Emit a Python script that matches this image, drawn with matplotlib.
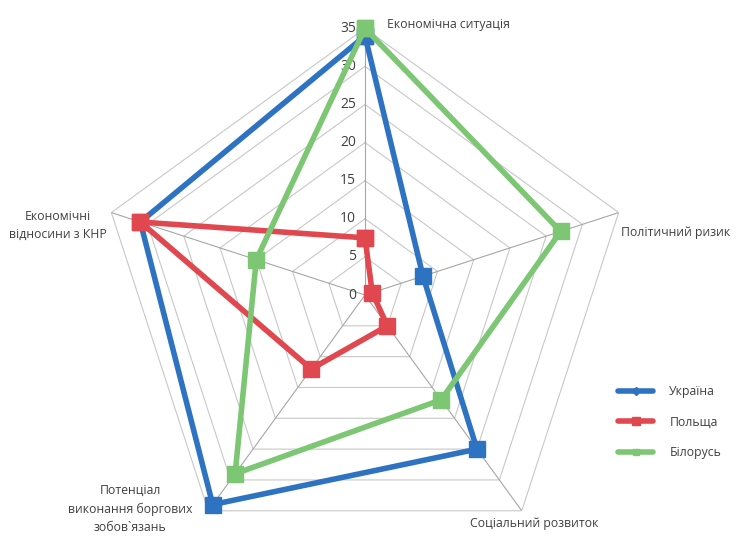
import numpy as np
import matplotlib
matplotlib.use("Agg")
import matplotlib.pyplot as plt
import matplotlib.transforms as mtransforms
from matplotlib.lines import Line2D

plt.rcParams['font.family'] = ['Open Sans', 'DejaVu Sans']

categories = ['Економічна ситуація', 'Політичний ризик', 'Соціальний розвиток',
              'Потенціал\nвиконання боргових\nзобов`язань', 'Економічні\nвідносини з КНР']
ukraine = [34, 8, 25, 34, 31]
poland = [7.5, 1, 5, 12, 31]
belarus = [35, 27, 17, 29, 15]
series_names = ['Україна', 'Польща', 'Білорусь']
colors = ['#2e72c2', '#e0474e', '#7cc674']
r_ticks = [0, 5, 10, 15, 20, 25, 30, 35]

fig = plt.figure(figsize=(7.45, 5.43), dpi=100)
cx, cy, R = 365, 543 - 295, 266.7
ax = fig.add_axes([(cx - R) / 745, (cy - R) / 543, 2 * R / 745, 2 * R / 543],
                  projection='polar')
ax.set_theta_offset(np.pi / 2)
ax.set_theta_direction(-1)
ax.set_ylim(0, 35)
ax.grid(False)
ax.spines['polar'].set_visible(False)
ax.set_xticks([])
ax.set_yticks([])
ax.patch.set_alpha(0)

n = len(categories)
ang = np.linspace(0, 2 * np.pi, n, endpoint=False)
ang_c = np.append(ang, ang[0])

# pentagon grid
for r in r_ticks[1:]:
    ax.plot(ang_c, [r] * (n + 1), color='#c8c8c8', lw=0.8, zorder=1)
for a in ang:
    ax.plot([a, a], [0, 35], color='#a6a6a6', lw=0.8, zorder=1)

# tick labels
off = mtransforms.offset_copy(ax.transData, fig=fig, x=-9, y=0, units='dots')
for r in r_ticks:
    ax.text(0, r, str(r), transform=off, ha='right', va='center',
            fontsize=10, color='#404040')

# category labels
label_off = [(22, 4, 'left'), (2, -20, 'left'), (12, -13, 'center'),
             (-78, 2, 'center'), (-53, -13, 'center')]
for a, lab, (dx, dy, ha) in zip(ang, categories, label_off):
    t = mtransforms.offset_copy(ax.transData, fig=fig, x=dx, y=dy, units='dots')
    ax.text(a, 35, lab, transform=t, ha=ha, va='center', fontsize=8.8,
            color='#404040', linespacing=1.55, multialignment='center')

for vals, c in zip([ukraine, poland, belarus], colors):
    v = np.append(vals, vals[0])
    ax.plot(ang_c, v, color=c, lw=4, marker='s', markersize=11,
            zorder=3, clip_on=False)

handles = [Line2D([], [], color=c, lw=4, marker=m, markersize=ms, solid_capstyle='round')
           for c, m, ms in zip(colors, ['D', 's', 's'], [4, 6, 5])]
fig.legend(handles, series_names, loc='center left',
           bbox_to_anchor=(618 / 745, 121 / 543), frameon=False,
           fontsize=8.8, handlelength=2.9, handletextpad=1.3,
           labelspacing=1.45, borderpad=0, borderaxespad=0,
           labelcolor='#404040')

fig.savefig('out.png', dpi=100)
